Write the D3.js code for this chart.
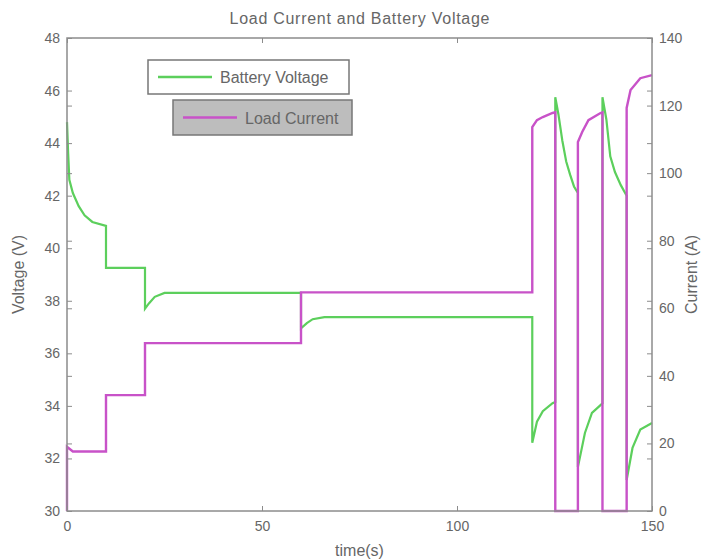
<!doctype html>
<meta charset="utf-8">
<style>
body { margin: 0; background: #fff; }
svg text { font-family: "Liberation Sans", Arial, Helvetica, sans-serif; fill: #666; }
</style>
<div id="chart"></div>
<script src="https://cdn.jsdelivr.net/npm/d3@7"></script>
<script>
// battery voltage samples (time in s, volts)
var voltTime = [0, 0.3, 0.6, 1.5, 3, 4.5, 6.5, 10, 10, 20, 20, 21, 22.5, 25, 60,
    60, 61.5, 63, 66, 119.3, 119.3, 120.5, 122, 124.5, 125.2,
    125.2, 126, 127, 128, 129, 130, 131,
    131, 132.8, 134.6, 136.8, 137.3,
    137.3, 138.3, 139.3, 140.5, 142, 143.5,
    143.5, 145, 147, 150];
var voltValue = [44.8, 43.6, 42.6, 42.1, 41.6, 41.25, 41.0, 40.85, 39.25, 39.25, 37.7, 37.9, 38.15, 38.3, 38.3,
    36.95, 37.15, 37.3, 37.38, 37.38, 32.6, 33.4, 33.8, 34.1, 34.15,
    45.75, 45.1, 44.1, 43.3, 42.8, 42.35, 42.1,
    31.67, 32.97, 33.73, 34.03, 34.1,
    45.75, 44.9, 43.5, 42.9, 42.4, 42.0,
    31.18, 32.4, 33.1, 33.35];

// load current samples (time in s, amps)
var currTime = [0, 0, 1.5, 10, 10, 20, 20, 60, 60, 119.3,
    119.3, 120.5, 122, 124.5, 125.2, 125.2, 131,
    131, 132.1, 133.7, 136.8, 137.3, 137.3, 143.5,
    143.5, 144.5, 147, 150];
var currValue = [0, 19, 17.6, 17.6, 34.3, 34.3, 49.7, 49.7, 64.7, 64.7,
    113.6, 115.7, 116.6, 117.8, 118, 0, 0,
    109.2, 112.2, 115.7, 117.8, 118, 0, 0,
    119.3, 124.6, 128.1, 129];

var timeTicks = [0, 50, 100, 150];
var voltTicks = [30, 32, 34, 36, 38, 40, 42, 44, 46, 48];
var currTicks = [0, 20, 40, 60, 80, 100, 120, 140];

var title = "Load Current and Battery Voltage";
var legendNames = ["Battery Voltage", "Load Current"];
var lineColors = ["#5ccf5c", "#c852c8"];
</script>
<script>
var width = 705, height = 560;
var margin = {left: 67, right: 53, top: 38, bottom: 49};
var plotRight = width - margin.right, plotBottom = height - margin.bottom;

var svg = d3.select("#chart").append("svg")
    .attr("width", width)
    .attr("height", height);

var x = d3.scaleLinear().domain([0, 150]).range([margin.left, plotRight]);
var yV = d3.scaleLinear().domain([30, 48]).range([plotBottom, margin.top]);
var yI = d3.scaleLinear().domain([0, 140]).range([plotBottom, margin.top]);

// data lines (drawn first so the box sits over them)
var voltData = d3.zip(voltTime, voltValue);
var currData = d3.zip(currTime, currValue);

svg.append("path")
    .datum(voltData)
    .attr("fill", "none")
    .attr("stroke", lineColors[0])
    .attr("stroke-width", 2.2)
    .attr("d", d3.line().x(function (d) { return x(d[0]); }).y(function (d) { return yV(d[1]); }));

svg.append("path")
    .datum(currData)
    .attr("fill", "none")
    .attr("stroke", lineColors[1])
    .attr("stroke-width", 2.4)
    .attr("d", d3.line().x(function (d) { return x(d[0]); }).y(function (d) { return yI(d[1]); }));

// plot box
svg.append("rect")
    .attr("x", margin.left)
    .attr("y", margin.top)
    .attr("width", plotRight - margin.left)
    .attr("height", plotBottom - margin.top)
    .attr("fill", "none")
    .attr("stroke", "#8c8c8c")
    .attr("stroke-width", 1.5);

// axes with inward ticks on every side
function styleAxis(g) {
    g.select(".domain").remove();
    g.selectAll(".tick line").attr("stroke", "#8c8c8c");
    g.selectAll(".tick text").attr("font-size", 14).attr("fill", "#666");
}

svg.append("g")
    .attr("transform", "translate(0," + plotBottom + ")")
    .call(d3.axisBottom(x).tickValues(timeTicks).tickSizeInner(-5).tickPadding(10))
    .call(styleAxis);
svg.append("g")
    .attr("transform", "translate(0," + margin.top + ")")
    .call(d3.axisTop(x).tickValues(timeTicks).tickSizeInner(-5).tickFormat(""))
    .call(styleAxis);

svg.append("g")
    .attr("transform", "translate(" + margin.left + ",0)")
    .call(d3.axisLeft(yV).tickValues(voltTicks).tickSizeInner(-5).tickPadding(7))
    .call(styleAxis);
svg.append("g")
    .attr("transform", "translate(" + plotRight + ",0)")
    .call(d3.axisRight(yV).tickValues(voltTicks).tickSizeInner(-5).tickFormat(""))
    .call(styleAxis);

svg.append("g")
    .attr("transform", "translate(" + plotRight + ",0)")
    .call(d3.axisRight(yI).tickValues(currTicks).tickSizeInner(-5).tickPadding(7))
    .call(styleAxis);
svg.append("g")
    .attr("transform", "translate(" + margin.left + ",0)")
    .call(d3.axisLeft(yI).tickValues(currTicks).tickSizeInner(-5).tickFormat(""))
    .call(styleAxis);

// titles
svg.append("text")
    .attr("x", (margin.left + plotRight) / 2)
    .attr("y", 24)
    .attr("text-anchor", "middle")
    .attr("font-size", 16)
    .attr("textLength", 260)
    .text(title);

svg.append("text")
    .attr("x", (margin.left + plotRight) / 2)
    .attr("y", 556)
    .attr("text-anchor", "middle")
    .attr("font-size", 16)
    .text("time(s)");

var midY = (margin.top + plotBottom) / 2;
svg.append("text")
    .attr("transform", "translate(24," + midY + ") rotate(-90)")
    .attr("text-anchor", "middle")
    .attr("font-size", 16)
    .text("Voltage (V)");

svg.append("text")
    .attr("transform", "translate(697," + midY + ") rotate(-90)")
    .attr("text-anchor", "middle")
    .attr("font-size", 16)
    .text("Current (A)");

// two separate legends, as in the original
var legends = [
    {x: 148, y: 60, w: 201, h: 34, fill: "#ffffff", name: legendNames[0], color: lineColors[0]},
    {x: 173, y: 100, w: 179, h: 35, fill: "#bdbdbd", name: legendNames[1], color: lineColors[1]}
];

var leg = svg.selectAll("g.legend").data(legends).enter()
    .append("g")
    .attr("class", "legend")
    .attr("transform", function (d) { return "translate(" + d.x + "," + d.y + ")"; });

leg.append("rect")
    .attr("width", function (d) { return d.w; })
    .attr("height", function (d) { return d.h; })
    .attr("fill", function (d) { return d.fill; })
    .attr("stroke", "#777")
    .attr("stroke-width", 1.5);

leg.append("line")
    .attr("x1", 10).attr("x2", 64)
    .attr("y1", function (d) { return d.h / 2; })
    .attr("y2", function (d) { return d.h / 2; })
    .attr("stroke", function (d) { return d.color; })
    .attr("stroke-width", 2.5);

leg.append("text")
    .attr("x", 72)
    .attr("y", function (d) { return d.h / 2 + 6; })
    .attr("font-size", 16)
    .attr("fill", "#666")
    .text(function (d) { return d.name; });
</script>
